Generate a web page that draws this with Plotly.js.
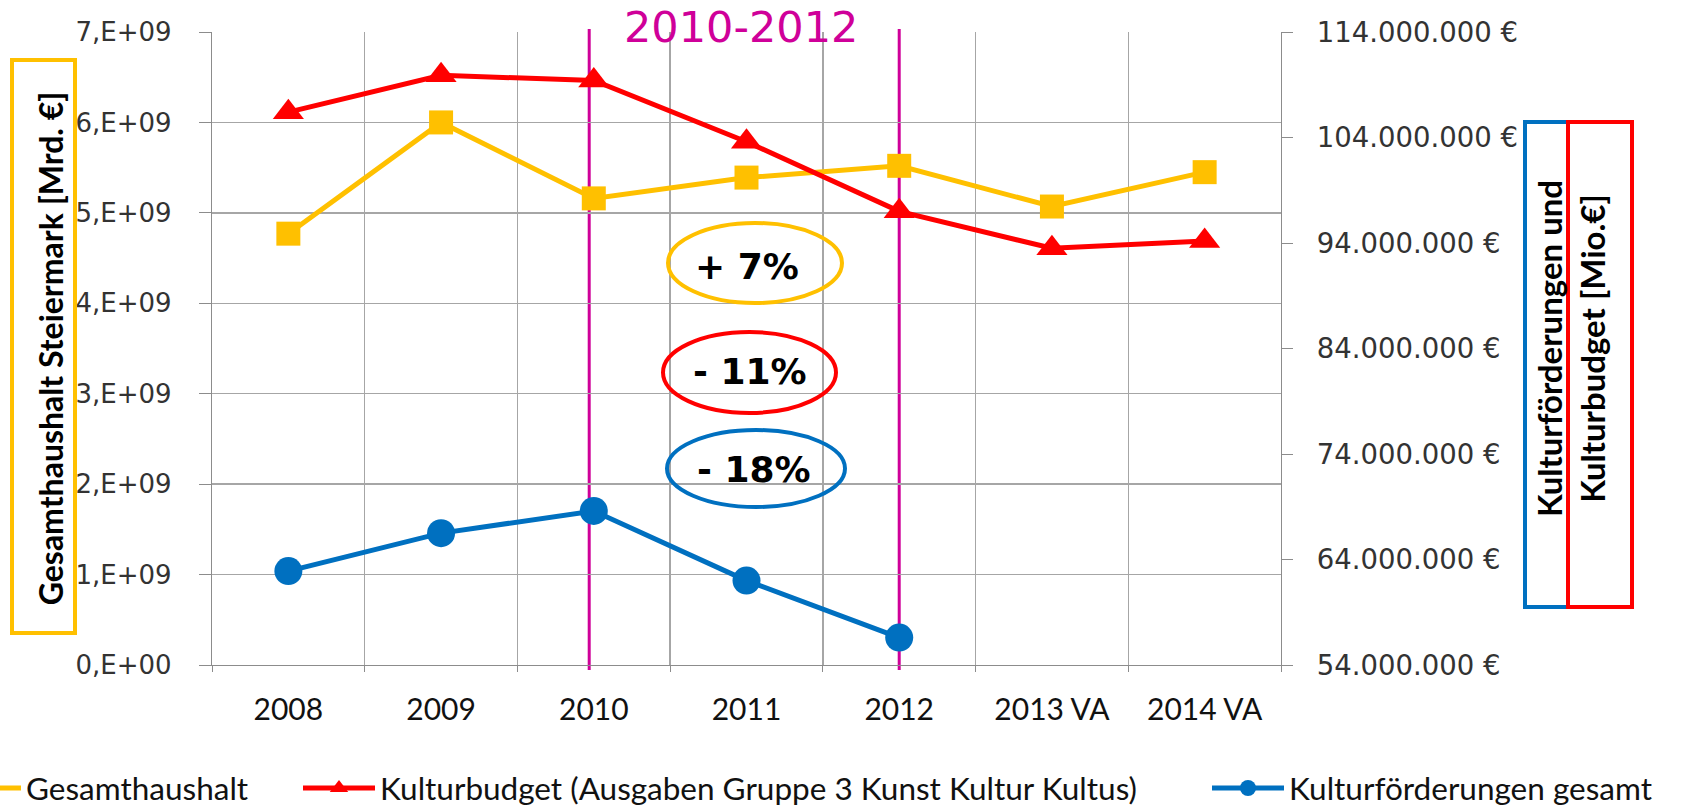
<!DOCTYPE html>
<html>
<head>
<meta charset="utf-8">
<script src="https://cdn.plot.ly/plotly-3.0.1.min.js"></script>
<style>
html,body{margin:0;padding:0;background:#fff;}
#chart{width:1682px;height:807px;}
</style>
</head>
<body>
<div id="chart"></div>
<script>
// ---- data ----
var categories = ['2008', '2009', '2010', '2011', '2012', '2013 VA', '2014 VA'];
var gesamthaushalt = [4.77e9, 6.00e9, 5.16e9, 5.39e9, 5.52e9, 5.07e9, 5.45e9];
var kulturbudget = [106.4e6, 109.9e6, 109.4e6, 103.6e6, 97.0e6, 93.5e6, 94.2e6];
var kulturfoerderungen = [62.9e6, 66.5e6, 68.6e6, 62.0e6, 56.6e6, null, null];

var leftTickVals = [0, 1e9, 2e9, 3e9, 4e9, 5e9, 6e9, 7e9];
var leftTickText = ['0,E+00', '1,E+09', '2,E+09', '3,E+09', '4,E+09', '5,E+09', '6,E+09', '7,E+09'];
var rightTickVals = [54e6, 64e6, 74e6, 84e6, 94e6, 104e6, 114e6];
var rightTickText = ['54.000.000 €', '64.000.000 €', '74.000.000 €', '84.000.000 €', '94.000.000 €', '104.000.000 €', '114.000.000 €'];

var seriesNames = ['Gesamthaushalt', 'Kulturbudget (Ausgaben Gruppe 3 Kunst Kultur Kultus)', 'Kulturförderungen gesamt'];
var changeLabels = ['+ 7%', '- 11%', '- 18%'];
var periodLabel = '2010-2012';
var leftTitle = 'Gesamthaushalt Steiermark [Mrd. €]';
var rightTitle = ['Kulturförderungen und', 'Kulturbudget [Mio.€]'];

var YEL = '#FFC000', RED = '#FF0000', BLUE = '#0070C0', MAG = '#CF0099';
var GRID = '#a6a6a6', AXL = '#8c8c8c';

var traces = [
  {x: categories, y: gesamthaushalt, name: seriesNames[0], type: 'scatter', mode: 'lines+markers', legend: 'legend',
   line: {color: YEL, width: 5}, marker: {symbol: 'square', size: 24, color: YEL}, yaxis: 'y'},
  {x: categories, y: kulturbudget, name: seriesNames[1], type: 'scatter', mode: 'lines+markers', legend: 'legend2',
   line: {color: RED, width: 5}, marker: {symbol: 'triangle-up', size: 27, color: RED}, yaxis: 'y2'},
  {x: categories, y: kulturfoerderungen, name: seriesNames[2], type: 'scatter', mode: 'lines+markers', legend: 'legend3',
   line: {color: BLUE, width: 5}, marker: {symbol: 'circle', size: 28, color: BLUE}, yaxis: 'y2'}
];

var L = 212, R = 1281, T = 32, B = 665;
function px(x) { return (x - L) / (R - L); }
function py(y) { return (B - y) / (B - T); }

var shapes = [
  // period lines
  {type: 'line', xref: 'x', yref: 'paper', x0: 1.97, x1: 1.97, y0: py(670), y1: py(29), line: {color: MAG, width: 3}, layer: 'between'},
  {type: 'line', xref: 'x', yref: 'paper', x0: 4.0, x1: 4.0, y0: py(670), y1: py(29), line: {color: MAG, width: 3}, layer: 'between'},
  // ellipses
  {type: 'circle', xref: 'paper', yref: 'paper', x0: px(668), x1: px(842), y0: py(303), y1: py(223), line: {color: YEL, width: 4}},
  {type: 'circle', xref: 'paper', yref: 'paper', x0: px(663), x1: px(836), y0: py(413), y1: py(332), line: {color: RED, width: 4}},
  {type: 'circle', xref: 'paper', yref: 'paper', x0: px(667), x1: px(845), y0: py(507), y1: py(430), line: {color: BLUE, width: 4}},
  // title boxes
  {type: 'rect', xref: 'paper', yref: 'paper', x0: px(12), x1: px(75), y0: py(633), y1: py(60), line: {color: YEL, width: 4}},
  {type: 'rect', xref: 'paper', yref: 'paper', x0: px(1525), x1: px(1568), y0: py(607), y1: py(122), line: {color: BLUE, width: 4}},
  {type: 'rect', xref: 'paper', yref: 'paper', x0: px(1568), x1: px(1632), y0: py(607), y1: py(122), line: {color: RED, width: 4}}
];

var pctFont = {family: 'DejaVu Sans, Verdana, sans-serif', size: 36, color: '#000', weight: 'bold'};
function pct(x, y, t) {
  return {xref: 'paper', yref: 'paper', x: px(x), y: py(y), xanchor: 'center', yanchor: 'middle',
          text: '<b>' + t + '</b>', showarrow: false, font: pctFont};
}
var annotations = [
  {xref: 'paper', yref: 'paper', x: px(741), y: py(27), xanchor: 'center', yanchor: 'middle', text: periodLabel, showarrow: false,
   font: {family: 'DejaVu Sans, sans-serif', size: 43, color: MAG}},
  pct(747, 266, changeLabels[0]),
  pct(750, 372, changeLabels[1]),
  pct(754, 469, changeLabels[2])
];

var legFont = {family: 'Lato, sans-serif', size: 31.5, color: '#111'};
function leg(textX) {
  return {orientation: 'h', x: px(textX - 82), y: py(788), xanchor: 'left', yanchor: 'middle',
          font: legFont, bgcolor: 'rgba(0,0,0,0)', itemwidth: 72, borderwidth: 0};
}

var layout = {
  width: 1682, height: 807,
  margin: {l: L, r: 1682 - R, t: T, b: 807 - B, autoexpand: false},
  paper_bgcolor: '#fff', plot_bgcolor: '#fff',
  showlegend: true,
  legend: leg(26),
  legend2: leg(380),
  legend3: leg(1289),
  xaxis: {type: 'category', range: [-0.5, 6.5], tickson: 'boundaries', showgrid: true, gridcolor: GRID, gridwidth: 1.3,
          showline: true, linecolor: AXL, linewidth: 1.3, ticks: 'outside', ticklen: 6, tickcolor: AXL,
          tickfont: {family: 'Lato, sans-serif', size: 30, color: '#111'}, ticklabelstandoff: 18, fixedrange: true},
  yaxis: {range: [0, 7e9], tickvals: leftTickVals, ticktext: leftTickText, showgrid: true, gridcolor: GRID, gridwidth: 1.3,
          zeroline: false, showline: true, linecolor: AXL, linewidth: 1.3, ticks: 'outside', ticklen: 12, tickcolor: AXL,
          tickfont: {family: 'DejaVu Sans, Verdana, sans-serif', size: 26, color: '#333'}, ticklabelstandoff: 22,
          title: {text: '<b>' + leftTitle + '</b>', font: {family: 'Lato, sans-serif', size: 32, color: '#000', weight: 'bold'}, standoff: 2}},
  yaxis2: {overlaying: 'y', side: 'right', range: [54e6, 114e6], tickvals: rightTickVals, ticktext: rightTickText,
           showgrid: false, zeroline: false, showline: true, linecolor: AXL, linewidth: 1.3, ticks: 'outside', ticklen: 11, tickcolor: AXL,
           tickfont: {family: 'DejaVu Sans, Verdana, sans-serif', size: 27.5, color: '#333'}, ticklabelstandoff: 18,
           title: {text: '<b>' + rightTitle[0] + '<br>' + rightTitle[1] + '</b>', font: {family: 'Lato, sans-serif', size: 33, color: '#000', weight: 'bold'}, standoff: 22}},
  shapes: shapes,
  annotations: annotations
};

Plotly.newPlot('chart', traces, layout, {displayModeBar: false, staticPlot: true});
</script>
</body>
</html>
